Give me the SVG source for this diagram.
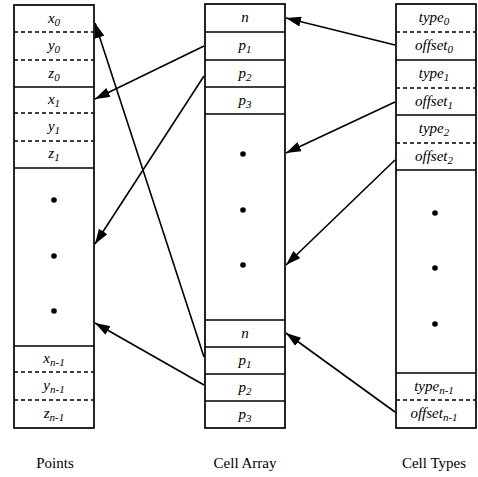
<svg xmlns="http://www.w3.org/2000/svg" width="478" height="477" viewBox="0 0 478 477">
<style>
.box{fill:#fff;stroke:#000;stroke-width:1.7}
.sep{stroke:#000;stroke-width:1.7}
.dash{stroke:#000;stroke-width:1.5;stroke-dasharray:4,3}
.lbl{font-family:"Liberation Serif",serif;font-style:italic;font-size:15px;text-anchor:middle}
.sub{font-size:11px}
.cap{font-family:"Liberation Serif",serif;font-size:15px;text-anchor:middle}
.dot{fill:#000}
.conn{stroke:#000;stroke-width:1.6;fill:none;marker-end:url(#ah)}
</style>
<defs>
<marker id="ah" markerUnits="userSpaceOnUse" markerWidth="16" markerHeight="10" refX="15" refY="5" orient="auto">
<path d="M0,0 L15,5 L0,10 z" fill="#000"/>
</marker>
</defs>
<rect width="478" height="477" fill="#fff"/>
<g id="points">
<rect class="box" x="14" y="5" width="80" height="423"/>
<line class="dash" x1="14" y1="32" x2="94" y2="32"/>
<line class="dash" x1="14" y1="60" x2="94" y2="60"/>
<line class="sep" x1="14" y1="87" x2="94" y2="87"/>
<line class="dash" x1="14" y1="113" x2="94" y2="113"/>
<line class="dash" x1="14" y1="141" x2="94" y2="141"/>
<line class="sep" x1="14" y1="168" x2="94" y2="168"/>
<line class="sep" x1="14" y1="346" x2="94" y2="346"/>
<line class="dash" x1="14" y1="372" x2="94" y2="372"/>
<line class="dash" x1="14" y1="400" x2="94" y2="400"/>
<text class="lbl" x="54" y="23">x<tspan class="sub" dy="3">0</tspan></text>
<text class="lbl" x="54" y="50">y<tspan class="sub" dy="3">0</tspan></text>
<text class="lbl" x="54" y="78">z<tspan class="sub" dy="3">0</tspan></text>
<text class="lbl" x="54" y="104">x<tspan class="sub" dy="3">1</tspan></text>
<text class="lbl" x="54" y="131">y<tspan class="sub" dy="3">1</tspan></text>
<text class="lbl" x="54" y="158">z<tspan class="sub" dy="3">1</tspan></text>
<circle class="dot" cx="54" cy="200" r="2.8"/>
<circle class="dot" cx="54" cy="256" r="2.8"/>
<circle class="dot" cx="54" cy="311" r="2.8"/>
<text class="lbl" x="54" y="363">x<tspan class="sub" dy="3">n-1</tspan></text>
<text class="lbl" x="54" y="390">y<tspan class="sub" dy="3">n-1</tspan></text>
<text class="lbl" x="54" y="418">z<tspan class="sub" dy="3">n-1</tspan></text>
</g>
<g id="cellarray">
<rect class="box" x="205" y="4" width="80" height="424"/>
<line class="sep" x1="205" y1="32" x2="285" y2="32"/>
<line class="sep" x1="205" y1="60" x2="285" y2="60"/>
<line class="sep" x1="205" y1="87" x2="285" y2="87"/>
<line class="sep" x1="205" y1="114" x2="285" y2="114"/>
<line class="sep" x1="205" y1="320" x2="285" y2="320"/>
<line class="sep" x1="205" y1="347" x2="285" y2="347"/>
<line class="sep" x1="205" y1="374" x2="285" y2="374"/>
<line class="sep" x1="205" y1="401" x2="285" y2="401"/>
<text class="lbl" x="245" y="22">n</text>
<text class="lbl" x="245" y="50">p<tspan class="sub" dy="3">1</tspan></text>
<text class="lbl" x="245" y="78">p<tspan class="sub" dy="3">2</tspan></text>
<text class="lbl" x="245" y="105">p<tspan class="sub" dy="3">3</tspan></text>
<circle class="dot" cx="243" cy="154" r="2.8"/>
<circle class="dot" cx="243" cy="210" r="2.8"/>
<circle class="dot" cx="243" cy="265" r="2.8"/>
<text class="lbl" x="245" y="338">n</text>
<text class="lbl" x="245" y="365">p<tspan class="sub" dy="3">1</tspan></text>
<text class="lbl" x="245" y="392">p<tspan class="sub" dy="3">2</tspan></text>
<text class="lbl" x="245" y="419">p<tspan class="sub" dy="3">3</tspan></text>
</g>
<g id="celltypes">
<rect class="box" x="396" y="4" width="80" height="424"/>
<line class="dash" x1="396" y1="32" x2="476" y2="32"/>
<line class="sep" x1="396" y1="60" x2="476" y2="60"/>
<line class="dash" x1="396" y1="88" x2="476" y2="88"/>
<line class="sep" x1="396" y1="115" x2="476" y2="115"/>
<line class="dash" x1="396" y1="143" x2="476" y2="143"/>
<line class="sep" x1="396" y1="170" x2="476" y2="170"/>
<line class="sep" x1="396" y1="373" x2="476" y2="373"/>
<line class="dash" x1="396" y1="400" x2="476" y2="400"/>
<text class="lbl" x="434" y="22">type<tspan class="sub" dy="3">0</tspan></text>
<text class="lbl" x="434" y="50">offset<tspan class="sub" dy="3">0</tspan></text>
<text class="lbl" x="434" y="78">type<tspan class="sub" dy="3">1</tspan></text>
<text class="lbl" x="434" y="106">offset<tspan class="sub" dy="3">1</tspan></text>
<text class="lbl" x="434" y="133">type<tspan class="sub" dy="3">2</tspan></text>
<text class="lbl" x="434" y="161">offset<tspan class="sub" dy="3">2</tspan></text>
<circle class="dot" cx="435" cy="213" r="2.8"/>
<circle class="dot" cx="435" cy="268" r="2.8"/>
<circle class="dot" cx="435" cy="324" r="2.8"/>
<text class="lbl" x="434" y="391">type<tspan class="sub" dy="3">n-1</tspan></text>
<text class="lbl" x="434" y="418">offset<tspan class="sub" dy="3">n-1</tspan></text>
</g>
<g id="connectors">
<line class="conn" x1="395" y1="45" x2="286" y2="18"/>
<line class="conn" x1="395" y1="102" x2="286" y2="153"/>
<line class="conn" x1="395" y1="160" x2="286" y2="265"/>
<line class="conn" x1="395" y1="412" x2="286" y2="333"/>
<line class="conn" x1="204" y1="46" x2="95" y2="99"/>
<line class="conn" x1="204" y1="76" x2="95" y2="244"/>
<line class="conn" x1="204" y1="357" x2="95" y2="23"/>
<line class="conn" x1="204" y1="385" x2="95" y2="323"/>
</g>
<g id="captions">
<text class="cap" x="55" y="468">Points</text>
<text class="cap" x="245" y="468">Cell Array</text>
<text class="cap" x="434" y="468">Cell Types</text>
</g>
</svg>
